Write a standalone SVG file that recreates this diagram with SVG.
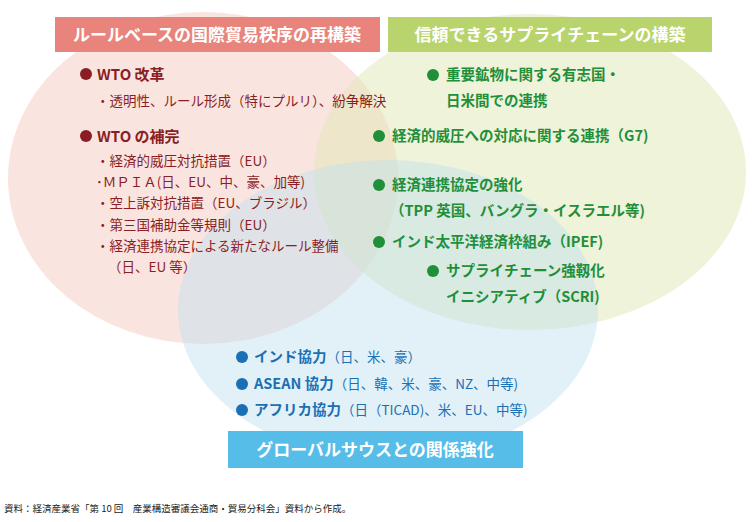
<svg xmlns="http://www.w3.org/2000/svg" width="752" height="522" viewBox="0 0 752 522">
<style>
text{font-family:"Noto Sans CJK JP","Noto Sans",sans-serif}
.h{fill:#fff;font-size:17px;font-weight:bold;text-anchor:middle}
.r{fill:#8b1e24;font-weight:bold;font-size:15px}
.rs{fill:#8b1e24;font-size:13.5px}
.g{fill:#1f8f3a;font-weight:bold;font-size:14.5px}
.b{fill:#1a6fb5;font-weight:bold;font-size:14.5px}
</style>
<rect width="752" height="522" fill="#fff"/>
<g id="circles">
<ellipse cx="203" cy="178" rx="195" ry="166" fill="#f1b9ad" fill-opacity="0.38"/>
<ellipse cx="530" cy="172" rx="216" ry="158" fill="#dfe8b5" fill-opacity="0.5"/>
<ellipse cx="388" cy="310" rx="210" ry="150" fill="#bfe0ee" fill-opacity="0.45"/>
</g>
<g id="node-rules">
<rect x="55" y="17" width="325" height="35" fill="#e8847b"/>
<text class="h" x="217" y="41">ルールベースの国際貿易秩序の再構築</text>
<circle cx="86" cy="74" r="6" fill="#8b1e24"/>
<text class="r" x="97" y="80">WTO 改革</text>
<text class="rs" x="96" y="106">・透明性、ルール形成（特にプルリ）、紛争解決</text>
<circle cx="86" cy="136" r="6" fill="#8b1e24"/>
<text class="r" x="97" y="142">WTO の補完</text>
<text class="rs" x="96" y="166">・経済的威圧対抗措置（EU）</text>
<text class="rs" x="96" y="187">･ＭＰＩＡ(日、EU、中、豪、加等)</text>
<text class="rs" x="96" y="208">・空上訴対抗措置（EU、ブラジル）</text>
<text class="rs" x="96" y="230">・第三国補助金等規則（EU）</text>
<text class="rs" x="96" y="251">・経済連携協定による新たなルール整備</text>
<text class="rs" x="108" y="272">（日、EU 等）</text>
</g>
<g id="node-supply">
<rect x="388" y="17" width="324" height="35" fill="#b9d46c"/>
<text class="h" x="550" y="41">信頼できるサプライチェーンの構築</text>
<circle cx="433" cy="75" r="6" fill="#1f8f3a"/>
<text class="g" x="446" y="80">重要鉱物に関する有志国・</text>
<text class="g" x="446" y="106">日米間での連携</text>
<circle cx="379" cy="136" r="6" fill="#1f8f3a"/>
<text class="g" x="392" y="141">経済的威圧への対応に関する連携（G7)</text>
<circle cx="379" cy="185" r="6" fill="#1f8f3a"/>
<text class="g" x="392" y="190">経済連携協定の強化</text>
<text class="g" x="390" y="216">（TPP 英国、バングラ・イスラエル等)</text>
<circle cx="379" cy="242" r="6" fill="#1f8f3a"/>
<text class="g" x="392" y="247">インド太平洋経済枠組み（IPEF)</text>
<circle cx="433" cy="271" r="6" fill="#1f8f3a"/>
<text class="g" x="446" y="276">サプライチェーン強靱化</text>
<text class="g" x="446" y="302">イニシアティブ（SCRI)</text>
</g>
<g id="node-south">
<rect x="228" y="431" width="295" height="37" fill="#56bde9"/>
<text class="h" x="375" y="456">グローバルサウスとの関係強化</text>
<circle cx="242" cy="357" r="6" fill="#1a6fb5"/>
<text class="b" x="254" y="362">インド協力<tspan font-weight="normal" font-size="13.5">（日、米、豪）</tspan></text>
<circle cx="242" cy="384" r="6" fill="#1a6fb5"/>
<text class="b" x="254" y="389">ASEAN 協力<tspan font-weight="normal" font-size="13.5">（日、韓、米、豪、NZ、中等)</tspan></text>
<circle cx="242" cy="410" r="6" fill="#1a6fb5"/>
<text class="b" x="254" y="415">アフリカ協力<tspan font-weight="normal" font-size="13.5">（日（TICAD)、米、EU、中等)</tspan></text>
</g>
<g id="connectors"/>
<text x="4" y="512" font-size="9.5" fill="#222">資料：経済産業省「第 10 回　産業構造審議会通商・貿易分科会」資料から作成。</text>
</svg>
